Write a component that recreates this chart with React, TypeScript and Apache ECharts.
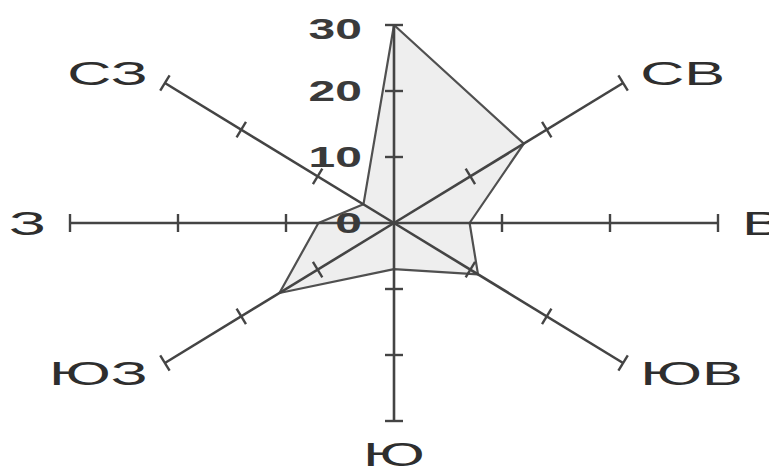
import React, { useEffect, useRef } from "react";
import * as echarts from "echarts";

// Wind rose data (directions clockwise from north)
const directions = ["С", "СВ", "В", "ЮВ", "Ю", "ЮЗ", "З", "СЗ"];
const angles = [0, 45, 90, 135, 180, 225, 270, 315];
const values = [30, 17, 7, 11, 7, 15, 7, 4];
const showDirLabel = [false, true, true, true, true, true, true, true];
const axisMax = 30;
const tickValues = [10, 20, 30];
const radialTickValues = [0, 10, 20, 30];
const radialTickLabels = ["0", "10", "20", "30"];

const FONT = '"Liberation Sans", Arial, sans-serif';

function toXY(r: number, deg: number): [number, number] {
  const a = (deg * Math.PI) / 180;
  return [r * Math.sin(a), r * Math.cos(a)];
}

export default function App() {
  const ref = useRef<HTMLDivElement>(null);

  useEffect(() => {
    if (!ref.current) return;
    const chart = echarts.init(ref.current, undefined, { renderer: "svg" });

    const option: any = {
      animation: false,
      backgroundColor: "#ffffff",
      grid: { left: 70, right: 51, top: 25, bottom: 55 },
      xAxis: { type: "value", min: -axisMax, max: axisMax, show: false },
      yAxis: { type: "value", min: -axisMax, max: axisMax, show: false },
      series: [
        {
          type: "custom",
          name: "rose",
          coordinateSystem: "cartesian2d",
          data: [[0, 0]],
          z: 1,
          renderItem: (params: any, api: any) => {
            const pts = values.map((v, i) => api.coord(toXY(v, angles[i])));
            return {
              type: "polygon",
              shape: { points: pts },
              style: { fill: "#eeeeee", stroke: "#505050", lineWidth: 2.2, lineJoin: "round" },
            };
          },
        },
        {
          type: "custom",
          name: "axes",
          coordinateSystem: "cartesian2d",
          data: directions.map((d, i) => [i, 0]),
          z: 2,
          renderItem: (params: any, api: any) => {
            const i = params.dataIndex;
            const deg = angles[i];
            const c = api.coord([0, 0]);
            const e = api.coord(toXY(axisMax, deg));
            const dx = e[0] - c[0];
            const dy = e[1] - c[1];
            const len = Math.sqrt(dx * dx + dy * dy);
            const ux = dx / len;
            const uy = dy / len;
            const nx = -uy;
            const ny = ux;
            const children: any[] = [
              {
                type: "line",
                shape: { x1: c[0], y1: c[1], x2: e[0], y2: e[1] },
                style: { stroke: "#444444", lineWidth: 2.6 },
              },
            ];
            tickValues.forEach((t) => {
              const p = api.coord(toXY(t, deg));
              const h = 9;
              children.push({
                type: "line",
                shape: { x1: p[0] - nx * h, y1: p[1] - ny * h, x2: p[0] + nx * h, y2: p[1] + ny * h },
                style: { stroke: "#444444", lineWidth: 2.4 },
              });
            });
            if (showDirLabel[i]) {
              const horiz = Math.abs(uy) < 0.1;
              const vert = Math.abs(ux) < 0.1;
              const gap = horiz ? 24 : vert ? 33 : 20;
              const lx = e[0] + ux * gap;
              const ly = e[1] + uy * gap;
              const align = ux > 0.1 ? "left" : ux < -0.1 ? "right" : "center";
              children.push({
                type: "text",
                x: lx,
                y: ly,
                scaleX: 1.8,
                style: {
                  text: directions[i],
                  x: 0,
                  y: 0,
                  align,
                  verticalAlign: "middle",
                  font: `34px ${FONT}`,
                  fill: "#2e2e2e",
                },
              });
            }
            return { type: "group", children };
          },
        },
        {
          type: "custom",
          name: "radialLabels",
          coordinateSystem: "cartesian2d",
          data: radialTickValues.map((v) => [0, v]),
          z: 3,
          renderItem: (params: any, api: any) => {
            const i = params.dataIndex;
            const p = api.coord([0, radialTickValues[i]]);
            return {
              type: "text",
              x: p[0] - 32,
              y: p[1] + (i === radialTickValues.length - 1 ? 4 : 0),
              scaleX: 1.6,
              style: {
                text: radialTickLabels[i],
                x: 0,
                y: 0,
                align: "right",
                verticalAlign: "middle",
                font: `bold 30px ${FONT}`,
                fill: "#3a3a3a",
              },
            };
          },
        },
      ],
    };

    chart.setOption(option);
    return () => chart.dispose();
  }, []);

  return (
    <div
      ref={ref}
      style={{ position: "fixed", left: 0, top: 0, width: 769, height: 476 }}
    />
  );
}
